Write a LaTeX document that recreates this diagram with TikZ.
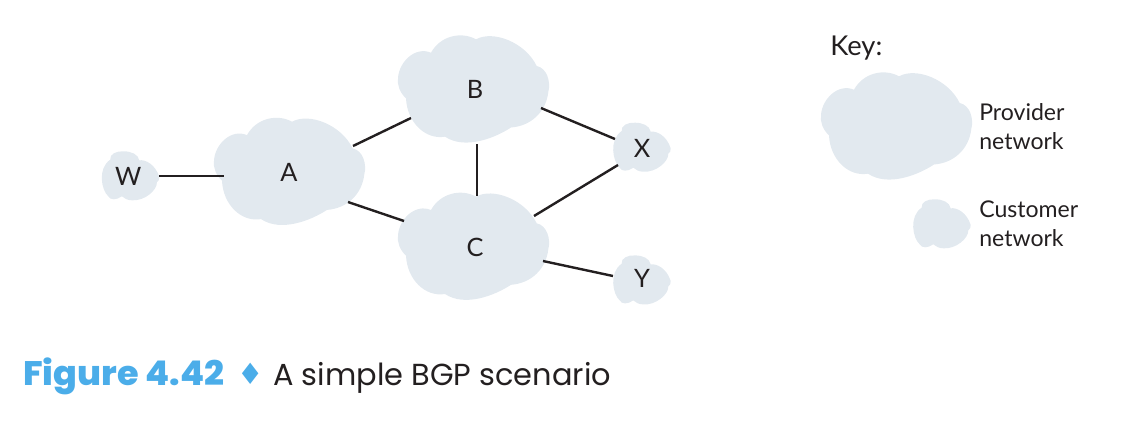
\documentclass[tikz,border=0pt]{standalone}
\usepackage{fontspec}
\setmainfont{Lato}
\newfontfamily\capfont{Poppins}
\newfontfamily\capheavy{Poppins ExtraBold}
\newfontfamily\symfont{DejaVu Sans}
\definecolor{cloudfill}{HTML}{E2E9EF}
\definecolor{figblue}{HTML}{4BADE9}
\definecolor{inkline}{HTML}{231F20}
\tikzset{
  bigcloud/.pic={\fill[cloudfill] (1,-50.7) .. controls (18,-60) and (50,-48) .. (61.7,-24)
    .. controls (72,-22) and (76,-8) .. (73.3,2) .. controls (71,22) and (56,36) .. (36,37.5)
    .. controls (20,48) and (-10,60) .. (-30,46.7) .. controls (-50,50) and (-68,32) .. (-69,8.3)
    .. controls (-75,3) and (-78,-5) .. (-77,-12) .. controls (-76,-28) and (-60,-44) .. (-44,-37.3)
    .. controls (-35,-54) and (-14,-59) .. (1,-50.7) -- cycle;},
  smallcloud/.pic={\fill[cloudfill] (9,-16) .. controls (15,-17) and (25,-12) .. (29,0.6)
    .. controls (29.5,3) and (28,5) .. (26.6,6) .. controls (27,14) and (14,25) .. (1.6,24)
    .. controls (-3,24) and (-6,22) .. (-8.4,20) .. controls (-14,24) and (-20,24) .. (-22,20)
    .. controls (-29,14) and (-33,-8) .. (-20,-16.7) .. controls (-21,-22) and (-14,-25.5) .. (-6.7,-25)
    .. controls (1,-25) and (8,-22) .. (9,-16) -- cycle;},
  netlabel/.style={inner sep=0pt,font=\fontsize{19}{19}\selectfont,text=inkline},
  keytext/.style={inner sep=0pt,anchor=base west,font=\fontsize{17.3}{17.3}\selectfont,text=inkline},
  link/.style={draw=inkline,line width=1.8pt}
}
\begin{document}
\begin{tikzpicture}[x=0.75pt,y=-0.75pt]
\useasboundingbox (0,0) rectangle (1136,426);
\pic at (291,172.4) {bigcloud};
\pic at (475,90) {bigcloud};
\pic at (475,247.3) {bigcloud};
\pic at (898,127) {bigcloud};
\pic at (130.3,176.3) {smallcloud};
\pic at (641.7,147.7) {smallcloud};
\pic at (641.7,280.4) {smallcloud};
\pic at (941.7,224.3) {smallcloud};
\node[netlabel] (W) at (128.3,176.7) {W};
\node[netlabel] (A) at (289,172) {A};
\node[netlabel] (B) at (475,89) {B};
\node[netlabel] (C) at (475,247) {C};
\node[netlabel] (X) at (642,148) {X};
\node[netlabel] (Y) at (642,278) {Y};
\draw[link] ([shift={(31,-0.7)}]W.center) -- ([shift={(-65,4)}]A.center);
\draw[link] ([shift={(64,-26)}]A.center) -- ([shift={(-64,29)}]B.center);
\draw[link] ([shift={(59,30)}]A.center) -- ([shift={(-71,-26)}]C.center);
\draw[link] ([shift={(2,55)}]B.center) -- ([shift={(2,-51)}]C.center);
\draw[link] ([shift={(66,19)}]B.center) -- ([shift={(-27,-9)}]X.center);
\draw[link] ([shift={(59,-31)}]C.center) -- ([shift={(-24,17)}]X.center);
\draw[link] ([shift={(68,14)}]C.center) -- ([shift={(-29,-2)}]Y.center);
\node[keytext,font=\fontsize{20.5}{20.5}\selectfont] (key) at (830,55) {Key:};
\node[keytext] (prov1) at (979,120) {Provider};
\node[keytext] (prov2) at (979,149) {network};
\node[keytext] (cust1) at (979,217) {Customer};
\node[keytext] (cust2) at (979,246) {network};
\node[inner sep=0pt,anchor=base west,font=\capheavy\fontsize{25.5}{25.5}\selectfont,text=figblue,xscale=1.03] (figno) at (23,385) {Figure 4.42};
\node[inner sep=0pt,anchor=base west,font=\symfont\fontsize{22}{22}\selectfont,text=figblue] (dia) at (237,384) {♦};
\node[inner sep=0pt,anchor=base west,font=\capfont\fontsize{22.8}{22.8}\selectfont,text=inkline] (title) at (273,385) {A simple BGP scenario};
\end{tikzpicture}
\end{document}
